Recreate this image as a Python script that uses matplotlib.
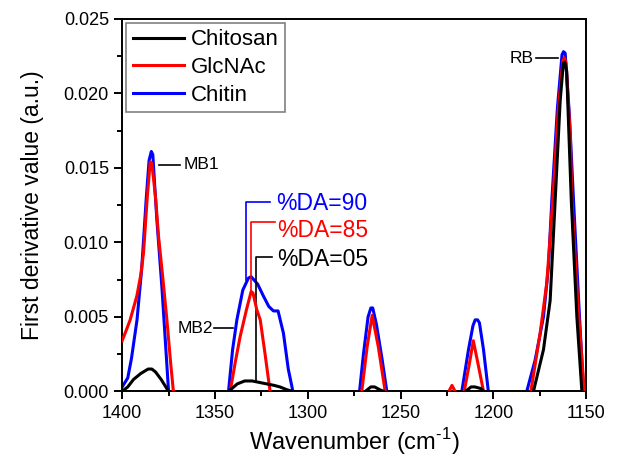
import numpy as np
import matplotlib
matplotlib.use('Agg')
from matplotlib import pyplot as plt
from matplotlib.ticker import MultipleLocator, FormatStrFormatter

plt.rcParams.update({'font.family': ['Liberation Sans', 'DejaVu Sans']})
plt.rcParams.update({'mathtext.fontset': 'custom', 'mathtext.rm': 'Liberation Sans'})

# first derivative curves (values below 0 are clipped by the axis limit)
chitin_wn = [1400, 1397, 1395, 1392, 1389.5, 1387, 1385.5, 1384.3, 1383.5, 1381.3, 1378.6, 1375, 1373,
             1360, 1344.5, 1342.7, 1340.5, 1338.2, 1335, 1332, 1330.5, 1327, 1323.9, 1321, 1318.5, 1316,
             1313.1, 1310.5, 1308, 1306, 1290, 1274, 1272.1, 1270, 1267.5, 1266, 1265, 1263, 1260, 1257.4,
             1255, 1240, 1219, 1217, 1213.4, 1211, 1209.8, 1208.5, 1207.5, 1205.3, 1202.7, 1200, 1190,
             1184, 1182, 1177.5, 1173, 1170.3, 1168.5, 1165.5, 1163, 1162.2, 1161.3, 1159, 1156.8, 1154,
             1151.4, 1150]
chitin_d = [0.0003, 0.0009, 0.0022, 0.0048, 0.0082, 0.0130, 0.0155, 0.0161, 0.0159, 0.0115, 0.0070, 0.0, -0.004,
            -0.008, -0.003, 0.0, 0.0028, 0.0048, 0.0068, 0.0076, 0.0077, 0.0072, 0.0064, 0.0057, 0.0054, 0.0054,
            0.0039, 0.0015, 0.0, -0.003, -0.006, -0.003, 0.0, 0.0025, 0.0050, 0.0056, 0.0056, 0.0045, 0.0022, 0.0,
            -0.003, -0.006, -0.003, 0.0, 0.0028, 0.0044, 0.0048, 0.0048, 0.0046, 0.0028, 0.0, -0.004, -0.006,
            -0.002, 0.0, 0.0021, 0.0050, 0.0084, 0.0128, 0.0190, 0.0226, 0.0228, 0.0227, 0.0185, 0.0128, 0.0060,
            0.0, -0.003]

glcnac_wn = [1400, 1397.5, 1395.7, 1392.1, 1390, 1388.5, 1386.5, 1384.9, 1384, 1382, 1380.4, 1378, 1375.9,
             1373.8, 1372.4, 1371, 1355, 1343.5, 1341.8, 1339, 1336.4, 1333, 1330.5, 1329.5, 1327.5, 1325.6,
             1323, 1320.3, 1318.5, 1295, 1272.5, 1270.9, 1268, 1265.3, 1262, 1258.3, 1256, 1226, 1224, 1222.3,
             1220.6, 1219, 1217, 1215.7, 1213, 1210.8, 1208.5, 1205.3, 1203, 1190, 1182, 1179.8, 1174.8, 1171.2,
             1168, 1165, 1162.5, 1161.7, 1160.8, 1158.5, 1157.7, 1154.5, 1151, 1150]
glcnac_d = [0.0034, 0.0042, 0.0048, 0.0064, 0.0078, 0.0093, 0.0130, 0.0154, 0.0153, 0.0130, 0.0104, 0.0075, 0.0048,
            0.0018, 0.0, -0.003, -0.008, -0.003, 0.0, 0.0020, 0.0037, 0.0055, 0.0067, 0.0066, 0.0055, 0.0048,
            0.0025, 0.0, -0.003, -0.006, -0.003, 0.0, 0.0030, 0.0051, 0.0030, 0.0, -0.003, -0.002, 0.0, 0.0004,
            0.0, -0.002, -0.002, 0.0, 0.0018, 0.0034, 0.0020, 0.0, -0.003, -0.006, -0.002, 0.0, 0.0039, 0.0073,
            0.0128, 0.0190, 0.0222, 0.0224, 0.0220, 0.0170, 0.0128, 0.0060, 0.0, -0.002]

chitosan_wn = [1400, 1397, 1393.9, 1390, 1386, 1384, 1382, 1379, 1375, 1373, 1360, 1344, 1342.7, 1338, 1334,
               1330, 1326, 1322, 1318, 1315, 1311, 1308, 1306, 1275, 1269, 1266, 1264, 1261, 1259, 1257, 1218,
               1215, 1212, 1210, 1207, 1205, 1203, 1185, 1180, 1178.4, 1173, 1169.4, 1166.7, 1164, 1162.3,
               1161.5, 1160.5, 1158, 1155, 1152.3, 1150]
chitosan_d = [0.0, 0.0003, 0.0008, 0.0012, 0.0015, 0.0015, 0.0013, 0.0008, 0.0, -0.002, -0.004, -0.001, 0.0,
              0.0005, 0.0007, 0.0007, 0.0006, 0.0005, 0.0004, 0.0003, 0.0001, 0.0, -0.002, -0.002, 0.0, 0.0003,
              0.0003, 0.0001, 0.0, -0.002, -0.002, 0.0, 0.0003, 0.0003, 0.0002, 0.0, -0.002, -0.004, -0.001, 0.0,
              0.0028, 0.0061, 0.0128, 0.0195, 0.0220, 0.0221, 0.0215, 0.0128, 0.0050, 0.0, -0.002]

fig = plt.figure(figsize=(6.17, 4.61), dpi=100)
ax = fig.add_axes([0.198, 0.151, 0.752, 0.808])

lw = 2.2
l_chitin, = ax.plot(chitin_wn, chitin_d, color='#0000ff', lw=lw, zorder=2, label='Chitin')
l_glcnac, = ax.plot(glcnac_wn, glcnac_d, color='#ff0000', lw=lw, zorder=3, label='GlcNAc')
l_chitosan, = ax.plot(chitosan_wn, chitosan_d, color='black', lw=lw, zorder=4, label='Chitosan')

ax.set_xlim(1400, 1150)
ax.set_ylim(0, 0.025)
ax.xaxis.set_major_locator(MultipleLocator(50))
ax.xaxis.set_minor_locator(MultipleLocator(25))
ax.yaxis.set_major_locator(MultipleLocator(0.005))
ax.yaxis.set_minor_locator(MultipleLocator(0.0025))
ax.yaxis.set_major_formatter(FormatStrFormatter('%.3f'))
ax.tick_params(which='both', direction='out', width=1.4, labelsize=13, top=False, right=False)
ax.tick_params(which='major', length=6)
ax.tick_params(which='minor', length=3.5)
for s in ax.spines.values():
    s.set_linewidth(1.4)

ax.set_xlabel('Wavenumber (cm$^{\\text{-1}}$)', fontsize=17, labelpad=3)
ax.set_ylabel('First derivative value (a.u.)', fontsize=16.5, labelpad=14)

leg = ax.legend(handles=[l_chitosan, l_glcnac, l_chitin], loc='upper left',
                bbox_to_anchor=(0.0086, 0.990), borderaxespad=0, fontsize=16,
                fancybox=False, framealpha=1, edgecolor='#808080',
                handlelength=2.3, handletextpad=0.3, labelspacing=0.3, borderpad=0.3)
leg.get_frame().set_linewidth(1.2)

# band labels
ax.plot([1380, 1368.7], [0.0152, 0.0152], color='black', lw=1.2)
ax.text(1367.1, 0.0152, 'MB1', fontsize=12.5, va='center', ha='left')
ax.plot([1350.3, 1340.3], [0.00424, 0.00424], color='black', lw=1.2)
ax.text(1351.2, 0.00424, 'MB2', fontsize=12.5, va='center', ha='right')
ax.plot([1176.9, 1164.9], [0.02236, 0.02236], color='black', lw=1.2)
ax.text(1178.2, 0.02236, 'RB', fontsize=12.5, va='center', ha='right')

# %DA brackets
ax.plot([1333.4, 1333.4, 1320.3], [0.0075, 0.0127, 0.0127], color='#0000ff', lw=1.2)
ax.text(1317.2, 0.01258, '%DA=90', color='#0000ff', fontsize=16.5, va='center', ha='left')
ax.plot([1330.5, 1330.5, 1317.6], [0.0066, 0.0114, 0.0114], color='#ff0000', lw=1.2)
ax.text(1316.6, 0.01077, '%DA=85', color='#ff0000', fontsize=16.5, va='center', ha='left')
ax.plot([1328, 1328, 1319.4], [0.0007, 0.0090, 0.0090], color='black', lw=1.2)
ax.text(1316.6, 0.00883, '%DA=05', color='black', fontsize=16.5, va='center', ha='left')

fig.savefig('out.png', dpi=100)
